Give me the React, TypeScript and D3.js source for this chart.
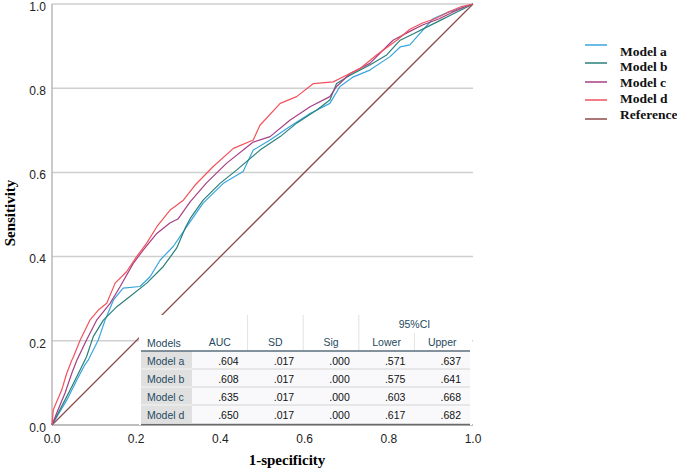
import React from 'react';
import * as d3 from 'd3';

// ---------- data ----------
const axisTicks = [0, 0.2, 0.4, 0.6, 0.8, 1.0];
const modelNames = ['Model a', 'Model b', 'Model c', 'Model d'];
const legendNames = ['Model a', 'Model b', 'Model c', 'Model d', 'Reference'];

const modelA: [number, number][] = [
  [0, 0], [0.035, 0.059], [0.059, 0.107], [0.078, 0.143], [0.086, 0.154], [0.09, 0.162],
  [0.11, 0.202], [0.126, 0.249], [0.146, 0.297], [0.169, 0.325], [0.209, 0.329], [0.233, 0.352],
  [0.257, 0.392], [0.288, 0.424], [0.32, 0.471], [0.359, 0.527], [0.407, 0.574], [0.454, 0.602],
  [0.478, 0.653], [0.518, 0.677], [0.565, 0.709], [0.613, 0.74], [0.66, 0.764], [0.684, 0.804],
  [0.716, 0.827], [0.755, 0.843], [0.803, 0.875], [0.827, 0.898], [0.85, 0.903], [0.874, 0.93],
  [0.905, 0.965], [0.94, 0.98], [0.97, 0.99], [1, 1],
];
const modelB: [number, number][] = [
  [0, 0], [0.027, 0.052], [0.047, 0.091], [0.067, 0.131], [0.078, 0.154], [0.082, 0.162],
  [0.098, 0.21], [0.122, 0.249], [0.154, 0.281], [0.185, 0.305], [0.225, 0.337], [0.264, 0.376],
  [0.296, 0.42], [0.316, 0.467], [0.328, 0.49], [0.359, 0.534], [0.399, 0.574], [0.439, 0.606],
  [0.494, 0.653], [0.542, 0.685], [0.581, 0.717], [0.629, 0.748], [0.66, 0.772], [0.676, 0.811],
  [0.708, 0.831], [0.755, 0.855], [0.795, 0.879], [0.827, 0.914], [0.86, 0.93], [0.89, 0.945],
  [0.92, 0.96], [0.95, 0.975], [0.98, 0.99], [1, 1],
];
const modelC: [number, number][] = [
  [0, 0], [0.011, 0.028], [0.031, 0.076], [0.047, 0.123], [0.059, 0.154], [0.062, 0.16],
  [0.082, 0.202], [0.106, 0.249], [0.138, 0.289], [0.162, 0.329], [0.193, 0.384], [0.217, 0.416],
  [0.249, 0.455], [0.28, 0.48], [0.3, 0.49], [0.328, 0.53], [0.367, 0.575], [0.415, 0.622],
  [0.478, 0.672], [0.518, 0.685], [0.565, 0.724], [0.613, 0.756], [0.66, 0.78], [0.676, 0.804],
  [0.708, 0.835], [0.755, 0.859], [0.795, 0.899], [0.81, 0.914], [0.85, 0.935], [0.88, 0.95],
  [0.92, 0.965], [0.95, 0.98], [0.98, 0.993], [1, 1],
];
const modelD: [number, number][] = [
  [0, 0], [0.003, 0.036], [0.023, 0.083], [0.035, 0.123], [0.047, 0.154], [0.051, 0.162],
  [0.067, 0.202], [0.09, 0.249], [0.11, 0.273], [0.13, 0.289], [0.15, 0.337], [0.177, 0.364],
  [0.201, 0.4], [0.225, 0.432], [0.249, 0.471], [0.28, 0.51], [0.312, 0.534], [0.34, 0.57],
  [0.383, 0.614], [0.431, 0.657], [0.478, 0.677], [0.494, 0.712], [0.542, 0.764], [0.581, 0.78],
  [0.621, 0.811], [0.668, 0.815], [0.692, 0.827], [0.732, 0.847], [0.771, 0.879], [0.819, 0.914],
  [0.85, 0.94], [0.88, 0.955], [0.91, 0.965], [0.94, 0.98], [0.97, 0.993], [1, 1],
];
const referenceLine: [number, number][] = [[0, 0], [1, 1]];

const tableHeaders = ['AUC', 'SD', 'Sig', 'Lower', 'Upper'];
const aucValues = [0.604, 0.608, 0.635, 0.65];
const sdValues = [0.017, 0.017, 0.017, 0.017];
const sigValues = [0.0, 0.0, 0.0, 0.0];
const lowerValues = [0.571, 0.575, 0.603, 0.617];
const upperValues = [0.637, 0.641, 0.668, 0.682];

// ---------- style / layout ----------
const W = 677;
const H = 469;
const colors = ['#38a6de', '#2b8079', '#a63f85', '#f2525c', '#8e4b4b'];
const sans = '"Liberation Sans", Arial, sans-serif';
const serif = '"Liberation Serif", "Times New Roman", serif';

export default function App() {
  const x = d3.scaleLinear().domain([0, 1]).range([52, 473]);
  const y = d3.scaleLinear().domain([0, 1]).range([425, 4]);
  const line = d3
    .line<[number, number]>()
    .x((d) => x(d[0]))
    .y((d) => y(d[1]));

  const series = [modelA, modelB, modelC, modelD];
  const fmt = (v: number) => d3.format('.3f')(v).replace(/^0/, '');
  const columns = [aucValues, sdValues, sigValues, lowerValues, upperValues];

  // table geometry
  const tLeft = 141;
  const tRight = 470;
  const tTop = 315;
  const labelRight = 192;
  const colW = (tRight - labelRight) / 5;
  const headBottom = 351;
  const rowH = 18;

  return (
    <svg
      width={W}
      height={H}
      style={{ position: 'absolute', left: 0, top: 0, background: '#fff' }}
    >
      {/* gridlines */}
      {axisTicks.slice(1).map((t) => (
        <line key={'g' + t} x1={x(0)} x2={x(1)} y1={y(t)} y2={y(t)} stroke="#cfcfcf" strokeWidth={1.5} />
      ))}
      {/* axes */}
      <line x1={x(0)} x2={x(0)} y1={y(0)} y2={y(1)} stroke="#b8b8b8" strokeWidth={1.5} />
      <line x1={x(0)} x2={x(1)} y1={y(0)} y2={y(0)} stroke="#a8a8a8" strokeWidth={1.5} />

      {/* y tick labels */}
      {axisTicks.map((t) => (
        <text key={'yl' + t} x={46} y={y(t) + 2.5} dy="0.35em" textAnchor="end" fontFamily={sans} fontSize={12} fill="#222">
          {t.toFixed(1)}
        </text>
      ))}
      {/* x tick labels */}
      {axisTicks.map((t) => (
        <text key={'xl' + t} x={x(t)} y={443} textAnchor="middle" fontFamily={sans} fontSize={12} fill="#222">
          {t.toFixed(1)}
        </text>
      ))}

      {/* reference */}
      <path d={line(referenceLine) || ''} fill="none" stroke={colors[4]} strokeWidth={1.3} />
      {/* curves */}
      {series.map((s, i) => (
        <path key={'s' + i} d={line(s) || ''} fill="none" stroke={colors[i]} strokeWidth={1.2} strokeLinejoin="round" />
      ))}

      {/* table */}
      <rect x={tLeft - 2} y={tTop} width={tRight - tLeft + 4} height={425 - tTop} fill="#fff" />
      {[0, 1, 2].map((k) => (
        <line key={'vs' + k} x1={labelRight + colW * (k + 1)} x2={labelRight + colW * (k + 1)} y1={tTop} y2={headBottom} stroke="#e2e2e2" />
      ))}
      <line x1={labelRight + colW * 4} x2={labelRight + colW * 4} y1={333} y2={headBottom} stroke="#e2e2e2" />
      <text x={labelRight + colW * 4} y={324} dy="0.35em" textAnchor="middle" fontFamily={sans} fontSize={10.5} fill="#264a60">
        95%CI
      </text>
      <text x={tLeft + 6} y={343} dy="0.35em" fontFamily={sans} fontSize={10.5} fill="#264a60">
        Models
      </text>
      {tableHeaders.map((h, j) => (
        <text key={'h' + h} x={labelRight + colW * (j + 0.5)} y={342} dy="0.35em" textAnchor="middle" fontFamily={sans} fontSize={10.5} fill="#264a60">
          {h}
        </text>
      ))}
      {modelNames.map((m, i) => {
        const top = headBottom + i * rowH;
        return (
          <g key={'r' + m}>
            <rect x={tLeft} y={top} width={labelRight - tLeft} height={rowH} fill="#e0e0e0" />
            <rect x={labelRight} y={top} width={tRight - labelRight} height={rowH} fill="#f9f9fb" />
            {i > 0 && <line x1={labelRight} x2={tRight} y1={top} y2={top} stroke="#d4d4d4" />}
            {i > 0 && <line x1={tLeft} x2={labelRight} y1={top} y2={top} stroke="#f4f4f4" />}
            <text x={tLeft + 6} y={top + rowH / 2 + 1} dy="0.35em" fontFamily={sans} fontSize={10.5} fill="#264a60">
              {m}
            </text>
            {columns.map((col, j) => (
              <text key={'c' + j} x={labelRight + colW * (j + 1) - 9} y={top + rowH / 2 + 1} dy="0.35em" textAnchor="end" fontFamily={sans} fontSize={10.5} fill="#111">
                {fmt(col[i])}
              </text>
            ))}
          </g>
        );
      })}
      <line x1={tLeft} x2={tRight} y1={headBottom} y2={headBottom} stroke="#5b6e7c" strokeWidth={1.3} />
      <line x1={tLeft} x2={tRight} y1={424.5} y2={424.5} stroke="#6a6a6a" strokeWidth={1.3} />

      {/* axis titles */}
      <text x={287} y={465} textAnchor="middle" fontFamily={serif} fontWeight="bold" fontSize={15} fill="#000">
        1-specificity
      </text>
      <text transform={`translate(15,213) rotate(-90)`} textAnchor="middle" fontFamily={serif} fontWeight="bold" fontSize={15} fill="#000">
        Sensitivity
      </text>

      {/* legend */}
      {legendNames.map((n, i) => {
        const ly = [45, 63, 82, 100, 119][i];
        const ty = [51, 66, 82, 98, 114][i];
        return (
          <g key={'lg' + n}>
            <line x1={585} x2={607} y1={ly} y2={ly} stroke={colors[i]} strokeWidth={1.5} />
            <text x={620} y={ty} dy="0.35em" fontFamily={serif} fontWeight="bold" fontSize={13.5} fill="#111">
              {n}
            </text>
          </g>
        );
      })}
    </svg>
  );
}
